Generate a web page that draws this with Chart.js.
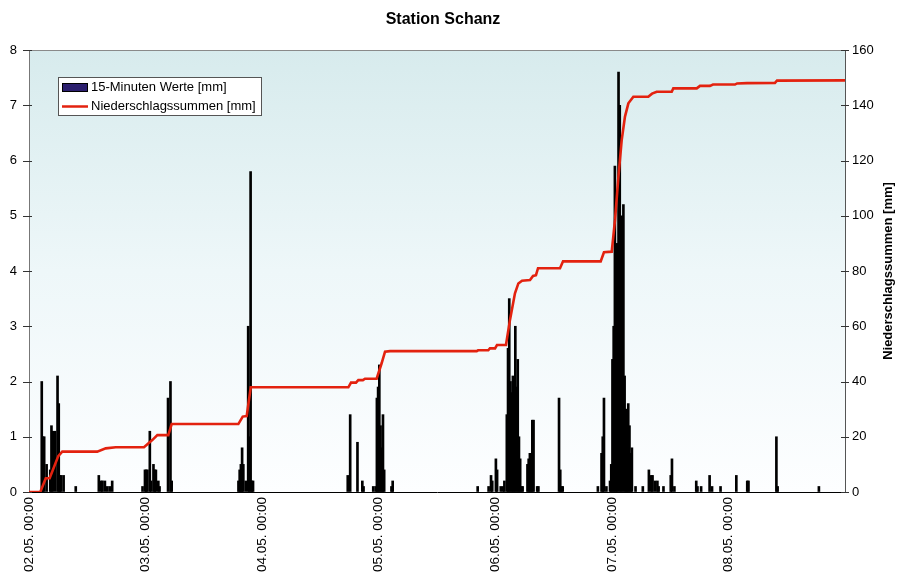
<!DOCTYPE html>
<html>
<head>
<meta charset="utf-8">
<script src="https://cdn.jsdelivr.net/npm/chart.js@4/dist/chart.umd.min.js"></script>
<style>
  html, body { margin: 0; padding: 0; background: #ffffff; overflow: hidden; }
  #wrap { position: relative; width: 901px; height: 572px; }
</style>
</head>
<body>
<div id="wrap"><canvas id="c" width="901" height="572"></canvas></div>
<script>
// Day labels for the x axis (one tick every 96 quarter hours)
const dayLabels = ['02.05. 00:00', '03.05. 00:00', '04.05. 00:00', '05.05. 00:00',
                   '06.05. 00:00', '07.05. 00:00', '08.05. 00:00'];

// 15-minute precipitation: quarter-hour index since 02.05. 00:00 and amount in mm
const quarterIdx = [
  10, 11, 12, 14, 17, 18, 19, 21, 23, 24, 25, 26, 28, 38, 57, 59, 60, 62, 64, 66, 68,
  93, 95, 96, 97, 99, 100, 102, 103, 104, 106, 107, 114, 116, 117,
  172, 173, 174, 175, 176, 178, 180, 181, 182, 183, 184,
  262, 264, 270, 274, 275, 283, 285, 286, 287, 288, 289, 290, 291, 292, 298, 299,
  369, 378, 380, 381, 384, 385, 388, 390, 391, 393, 394, 395, 396, 397, 398, 399, 400,
  401, 402, 403, 404, 405, 406, 410, 411, 412, 413, 414, 415, 418, 419, 436, 437, 438, 439,
  468, 471, 472, 473, 475, 478, 479, 480, 481, 482, 483, 484, 485, 486, 487, 488, 489,
  490, 491, 492, 493, 494, 495, 496, 499, 505, 510, 512, 513, 515, 517, 518, 522, 528, 529, 531,
  549, 550, 553, 560, 562, 569, 582, 591, 592, 615, 616, 650
];
const mm15 = [
  2.0, 1.0, 1.0, 0.5, 0.4, 1.2, 1.1, 1.1, 2.1, 1.6, 0.3, 0.3, 0.3, 0.1, 0.3, 0.2, 0.2, 0.2, 0.1, 0.1, 0.2,
  0.1, 0.4, 0.4, 0.4, 1.1, 0.2, 0.5, 0.4, 0.4, 0.2, 0.1, 1.7, 2.0, 0.2,
  0.2, 0.4, 0.5, 0.8, 0.5, 0.2, 3.0, 1.0, 5.8, 0.2, 0.2,
  0.3, 1.4, 0.9, 0.2, 0.1, 0.1, 0.1, 1.7, 1.9, 2.3, 1.2, 0.8, 1.4, 0.4, 0.1, 0.2,
  0.1, 0.1, 0.3, 0.2, 0.6, 0.4, 0.1, 0.1, 0.2, 1.4, 2.6, 3.5, 2.0, 1.8, 2.1, 1.5, 3.0,
  1.9, 2.4, 1.0, 0.6, 0.1, 0.1, 0.5, 0.6, 0.7, 0.4, 1.3, 1.3, 0.1, 0.1, 1.7, 0.4, 0.1, 0.1,
  0.1, 0.7, 1.0, 1.7, 0.1, 0.2, 0.5, 2.4, 3.0, 5.9, 4.0, 4.5, 7.6, 7.0, 3.5, 5.0, 5.2,
  2.1, 1.5, 1.0, 1.6, 1.2, 0.7, 0.8, 0.1, 0.1, 0.4, 0.3, 0.3, 0.2, 0.2, 0.1, 0.1, 0.3, 0.6, 0.1,
  0.2, 0.1, 0.1, 0.3, 0.1, 0.1, 0.3, 0.2, 0.2, 1.0, 0.1, 0.1
];

// Running precipitation total: quarter-hour position and total in mm
const sumQuarter = [
  0, 9.3, 13.8, 17.0, 24.1, 27.4, 56.2, 63.2, 71.4, 94.7, 101.5, 105.7, 114.7, 117.5,
  172.4, 176.0, 179.3, 182.6, 263.0, 265.2, 269.3, 271.2, 275.0, 276.7, 286.3, 290.4, 293.2, 297.3,
  368.7, 369.8, 378.2, 379.6, 383.8, 385.4, 392.8, 396.1, 400.2, 403.0, 406.0, 412.6, 415.1,
  417.5, 419.2, 437.3, 439.8, 470.8, 473.5, 479.9, 482.6, 485.4, 488.1, 490.8, 493.6, 497.7,
  510.0, 513.1, 516.9, 529.3, 530.6, 549.9, 552.6, 560.8, 563.3, 581.4, 583.1, 591.3, 614.3, 616.0, 672
];
const sumMm = [
  0, 0, 5.0, 5.0, 13.0, 14.6, 14.6, 15.8, 16.2, 16.2, 18.8, 20.6, 20.6, 24.6,
  24.6, 27.3, 27.5, 37.9, 37.9, 39.6, 39.6, 40.5, 40.5, 41.0, 41.0, 46.6, 50.8, 51.0,
  51.0, 51.3, 51.3, 52.0, 52.0, 53.2, 53.2, 62.3, 71.9, 75.5, 76.5, 76.7, 78.2,
  78.5, 81.0, 81.0, 83.5, 83.5, 86.8, 87.0, 98.5, 114.1, 127.4, 135.9, 140.7, 143.1,
  143.1, 144.2, 144.9, 144.9, 146.1, 146.1, 147.0, 147.0, 147.5, 147.5, 147.9, 148.0, 148.1, 148.9, 149.0
];

const chartTitle = 'Station Schanz';
const rightAxisTitle = 'Niederschlagssummen [mm]';

const FONT = "'Liberation Sans', Arial, Helvetica, sans-serif";
Chart.defaults.font.family = FONT;
Chart.defaults.color = '#000000';

const QUARTERS_PER_DAY = 96;
// the time axis runs seven full days, up to 09.05. 00:00
const LAST_QUARTER = dayLabels.length * QUARTERS_PER_DAY;

const barPoints = quarterIdx.map((q, i) => ({ x: q + 0.5, y: mm15[i] }));
const sumPoints = sumQuarter.map((q, i) => ({ x: q, y: sumMm[i] }));

// Plot background, frame, title, crossing tick marks, right axis title and legend box
const decorations = {
  id: 'decorations',
  beforeDraw(chart) {
    const { ctx, chartArea: a } = chart;
    const g = ctx.createLinearGradient(0, a.top, 0, a.bottom);
    g.addColorStop(0, '#d7ebed');
    g.addColorStop(0.5, '#eef7f9');
    g.addColorStop(1, '#fdfeff');
    ctx.save();
    ctx.fillStyle = g;
    ctx.fillRect(a.left, a.top, a.right - a.left, a.bottom - a.top);
    ctx.restore();
  },
  afterDraw(chart) {
    const { ctx, chartArea: a, scales } = chart;
    ctx.save();
    // chart title
    ctx.font = 'bold 16px ' + FONT;
    ctx.fillStyle = '#000000';
    ctx.textAlign = 'center';
    ctx.textBaseline = 'middle';
    ctx.fillText(chartTitle, 443, 20);

    // top frame line
    ctx.strokeStyle = '#8a8a8a';
    ctx.lineWidth = 1;
    ctx.beginPath();
    ctx.moveTo(a.left, a.top + 0.5);
    ctx.lineTo(a.right, a.top + 0.5);
    ctx.stroke();

    // tick marks crossing the value axes
    ctx.strokeStyle = '#333333';
    scales.y.ticks.forEach(t => {
      const py = Math.round(scales.y.getPixelForValue(t.value)) + 0.5;
      ctx.beginPath();
      ctx.moveTo(a.left - 6, py);
      ctx.lineTo(a.left + 3, py);
      ctx.stroke();
    });
    scales.y2.ticks.forEach(t => {
      const py = Math.round(scales.y2.getPixelForValue(t.value)) + 0.5;
      ctx.beginPath();
      ctx.moveTo(a.right - 4, py);
      ctx.lineTo(a.right + 4, py);
      ctx.stroke();
    });

    // right axis title, reading upwards
    ctx.translate(888, (a.top + a.bottom) / 2);
    ctx.rotate(-Math.PI / 2);
    ctx.font = 'bold 13px ' + FONT;
    ctx.fillText(rightAxisTitle, 0, 0);
    ctx.restore();

    // legend box
    const ds = chart.data.datasets;
    const bx = a.left + 29, by = a.top + 27, bw = 204, bh = 39;
    ctx.save();
    ctx.fillStyle = '#ffffff';
    ctx.fillRect(bx, by, bw, bh);
    ctx.strokeStyle = '#555555';
    ctx.lineWidth = 1;
    ctx.strokeRect(bx + 0.5, by + 0.5, bw - 1, bh - 1);
    ctx.font = '13px ' + FONT;
    ctx.textBaseline = 'middle';
    ctx.fillStyle = ds[0].swatchColor;
    ctx.fillRect(bx + 4, by + 6, 26, 9);
    ctx.strokeStyle = '#000000';
    ctx.strokeRect(bx + 4.5, by + 6.5, 25, 8);
    ctx.fillStyle = '#000000';
    ctx.fillText(ds[0].label, bx + 33, by + 10.5);
    ctx.strokeStyle = ds[1].borderColor;
    ctx.lineWidth = 2.5;
    ctx.beginPath();
    ctx.moveTo(bx + 4, by + 29.5);
    ctx.lineTo(bx + 30, by + 29.5);
    ctx.stroke();
    ctx.fillText(ds[1].label, bx + 33, by + 29.5);
    ctx.restore();
  }
};

new Chart(document.getElementById('c'), {
  type: 'bar',
  data: {
    datasets: [
      {
        type: 'bar',
        label: '15-Minuten Werte [mm]',
        data: barPoints,
        yAxisID: 'y',
        backgroundColor: '#000000',
        swatchColor: '#2c1f6e',
        borderWidth: 0,
        barThickness: 2,
        order: 2
      },
      {
        type: 'line',
        label: 'Niederschlagssummen [mm]',
        data: sumPoints,
        yAxisID: 'y2',
        borderColor: '#e3220f',
        borderWidth: 2.6,
        pointRadius: 0,
        tension: 0,
        fill: false,
        order: 1
      }
    ]
  },
  options: {
    responsive: false,
    animation: false,
    devicePixelRatio: 1,
    layout: { padding: { top: 50, left: 0, right: 0, bottom: 0 } },
    plugins: {
      legend: { display: false },
      tooltip: { enabled: false },
      title: { display: false }
    },
    scales: {
      x: {
        type: 'linear',
        min: 0,
        max: LAST_QUARTER,
        offset: false,
        grid: { display: false, drawTicks: false },
        border: { display: true, color: '#000000', width: 1 },
        ticks: {
          stepSize: QUARTERS_PER_DAY,
          autoSkip: false,
          maxRotation: 90,
          minRotation: 90,
          padding: 5,
          font: { size: 13.5, family: FONT },
          color: '#000000',
          callback: v => dayLabels[Math.round(v / QUARTERS_PER_DAY)] || ''
        },
        afterBuildTicks: s => { s.ticks = s.ticks.filter(t => t.value < s.max); },
        afterFit: s => { s.height = 80; }
      },
      y: {
        position: 'left',
        min: 0,
        max: 8,
        grid: { drawOnChartArea: false, drawTicks: false },
        border: { display: true, color: '#777777', width: 1 },
        ticks: { stepSize: 1, padding: 12, font: { size: 13, family: FONT }, color: '#000000' },
        afterFit: s => { s.width = 29; }
      },
      y2: {
        position: 'right',
        min: 0,
        max: 160,
        grid: { drawOnChartArea: false, drawTicks: false },
        border: { display: true, color: '#555555', width: 1 },
        ticks: { stepSize: 20, padding: 7, font: { size: 13, family: FONT }, color: '#000000' },
        afterFit: s => { s.width = 56; }
      }
    }
  },
  plugins: [decorations]
});
</script>
</body>
</html>
